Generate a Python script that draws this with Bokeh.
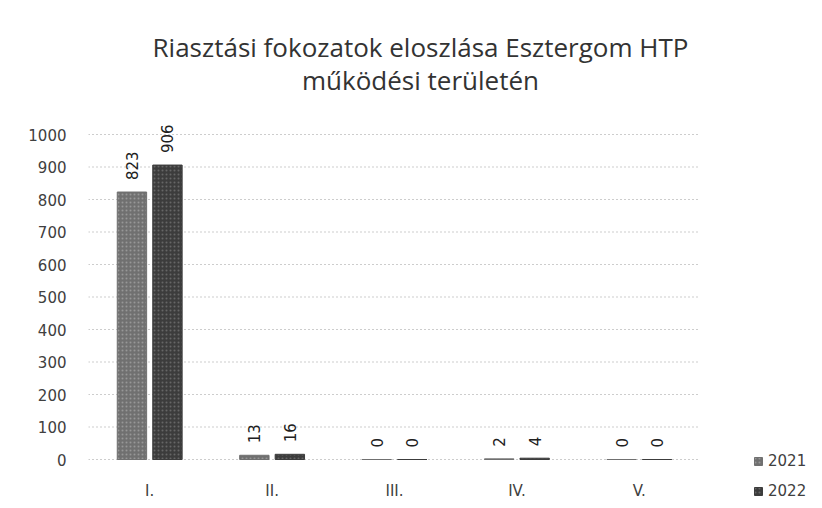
import numpy as np
from bokeh.plotting import figure
from bokeh.models import ColumnDataSource, Range1d, Legend, LegendItem, FixedTicker, Label
from bokeh.core.properties import value
from bokeh.embed import file_html
from bokeh.resources import INLINE

title_lines = ["Riasztási fokozatok eloszlása Esztergom HTP", "működési területén"]
categories = ["I.", "II.", "III.", "IV.", "V."]
years = ["2021", "2022"]
values_2021 = [823, 13, 0, 2, 0]
values_2022 = [906, 16, 0, 4, 0]
y_ticks = [0, 100, 200, 300, 400, 500, 600, 700, 800, 900, 1000]

# layout constants (pixels)
W, H = 814, 500
LEFT = 88
PX_PER_UNIT = 0.325         # vertical px per value unit
ZERO_Y = 459                # page y of the zero line
CAT_W = 122.4               # px per category
BAR_OFF, BAR_W = 0.145, 0.24

ncat = len(categories)
xc = np.arange(ncat) + 0.5
source = ColumnDataSource(dict(
    xc=xc, x1=xc - BAR_OFF, x2=xc + BAR_OFF, cat=categories,
    v2021=values_2021, v2022=values_2022,
    l2021=[str(v) for v in values_2021], l2022=[str(v) for v in values_2022],
    zero=[0] * ncat))

y0 = -(H - ZERO_Y) / PX_PER_UNIT
y1 = ZERO_Y / PX_PER_UNIT
p = figure(width=W, height=H, output_backend="svg", toolbar_location=None,
           x_range=Range1d(0, (W - LEFT) / CAT_W), y_range=Range1d(y0, y1),
           min_border_left=LEFT, min_border_right=0, min_border_top=0, min_border_bottom=0)
p.title = None
p.xaxis.visible = False
p.xgrid.grid_line_color = None
p.ygrid.grid_line_color = None
p.outline_line_color = None

# gridlines across the category area only
p.segment(x0=[0] * len(y_ticks), x1=[ncat] * len(y_ticks), y0=y_ticks, y1=y_ticks,
          line_color="#9a9a9a", line_dash="1 3", line_width=1)

colors = ["#707070", "#3c3c3c"]
r1 = p.vbar(x="x1", top="v2021", width=BAR_W, source=source,
            fill_color=colors[0], line_color=colors[0], hatch_pattern="dot", hatch_color="#b0b0b0",
            hatch_scale=4, hatch_alpha=0.6)
r2 = p.vbar(x="x2", top="v2022", width=BAR_W, source=source,
            fill_color=colors[1], line_color=colors[1], hatch_pattern="dot", hatch_color="#909090",
            hatch_scale=4, hatch_alpha=0.5)

for xcol, col in [("x1", "v2021"), ("x2", "v2022")]:
    p.text(x=xcol, y=col, text="l" + col[1:], source=source,
           angle=np.pi / 2, text_align="left", text_baseline="middle", y_offset=-12,
           text_font=value("DejaVu Sans"), text_font_size="15px", text_color="#202020")

# category labels
p.text(x="xc", y="zero", text="cat", source=source, text_align="center", text_baseline="middle",
       y_offset=31, text_font=value("DejaVu Sans"), text_font_size="15px", text_color="#404040")

p.yaxis.ticker = FixedTicker(ticks=y_ticks)
p.yaxis.axis_line_color = None
p.yaxis.major_tick_line_color = None
p.yaxis.minor_tick_line_color = None
p.yaxis.major_label_text_font = "DejaVu Sans"
p.yaxis.major_label_text_font_size = "15px"
p.yaxis.major_label_text_color = "#404040"
p.yaxis.major_label_standoff = 16

# title (two centred lines)
for i, line in enumerate(title_lines):
    p.add_layout(Label(x=420 - LEFT, y=H - 46 - 33 * i, x_units="screen", y_units="screen",
                       text=line, text_align="center", text_baseline="alphabetic",
                       text_font="Open Sans", text_font_size="26px", text_color="#333333"))

legend = Legend(items=[LegendItem(label=years[0], renderers=[r1]),
                       LegendItem(label=years[1], renderers=[r2])],
                location=(665, 0), orientation="vertical", spacing=12,
                glyph_width=10, glyph_height=10, label_text_font="DejaVu Sans",
                label_text_font_size="15px", label_text_color="#404040",
                background_fill_alpha=0, border_line_color=None, padding=0, margin=0,
                label_standoff=5)
p.add_layout(legend, "center")

open("out.html", "w").write(file_html(p, INLINE))
